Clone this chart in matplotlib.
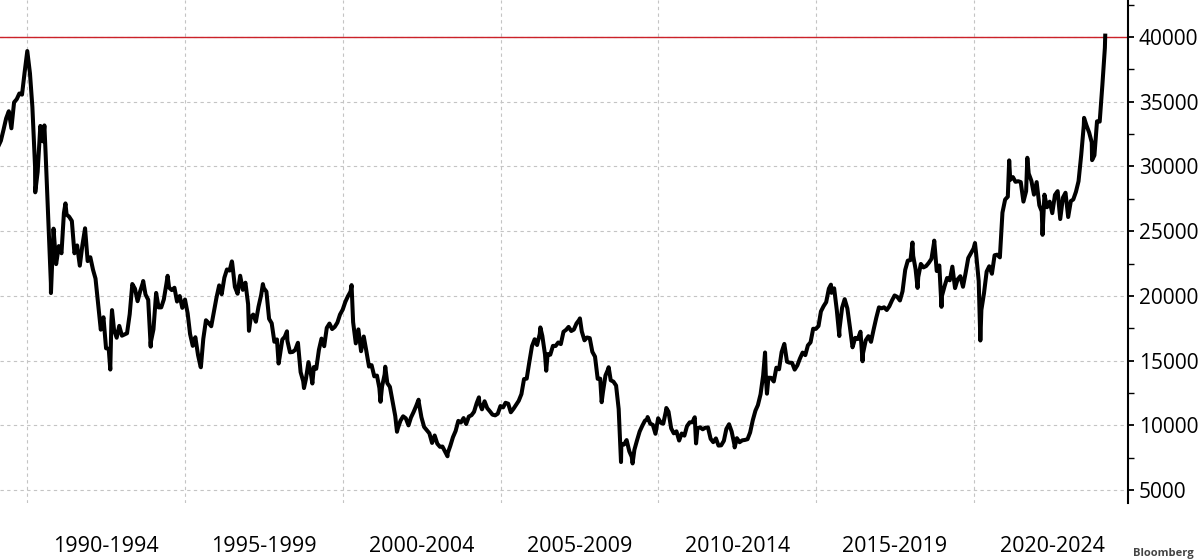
import matplotlib
matplotlib.use("Agg")
import matplotlib.pyplot as plt
import matplotlib.dates as mdates
from matplotlib.ticker import FixedLocator, NullFormatter
import pandas as pd

# ---- data: Nikkei 225 month-end closes (Jan 1989 .. Feb 2024) ----
closes_1989_2000 = [
    31581, 31985, 32839, 33713, 34266, 32948, 34954, 35200, 35636, 35549, 37269, 38916,  # 1989
    37189, 34592, 29980, 29584, 33131, 31940, 31036, 25978, 20984, 25194, 22455, 23849,  # 1990
    23293, 26409, 26292, 26111, 25790, 23291, 23900, 22335, 23916, 25222, 22687, 22984,  # 1991
    22023, 21339, 19346, 17391, 18348, 15951, 15910, 18061, 17399, 16767, 17684, 16925,  # 1992
    17024, 17113, 18591, 20919, 20552, 19590, 20380, 21027, 20106, 19703, 16408, 17417,  # 1993
    20229, 19112, 19112, 19725, 20974, 20644, 20449, 20629, 19564, 19990, 19076, 19723,  # 1994
    18650, 17053, 16140, 16807, 15437, 14518, 16678, 18117, 17913, 17655, 18744, 19868,  # 1995
    20813, 20125, 21407, 22041, 21956, 22531, 20693, 20167, 21556, 20467, 21020, 19361,  # 1996
    18330, 18557, 18003, 19151, 20069, 20605, 20331, 18229, 17888, 16459, 16636, 15259,  # 1997
    16628, 16832, 16527, 15641, 15671, 15831, 16379, 14108, 13406, 13564, 14884, 13842,  # 1998
    14499, 14368, 15837, 16702, 16112, 17530, 17862, 17437, 17605, 17942, 18558, 18934,  # 1999
    19540, 19960, 20337, 17974, 16332, 17411, 15727, 16861, 15747, 14539, 14649, 13786,  # 2000
]
closes_2001_2012 = [
    13844, 12883, 12999, 13934, 13262, 12969, 11861, 10713, 9775, 10366, 10697, 10543,   # 2001
    9997, 10588, 11025, 11493, 11764, 10622, 9877, 9619, 9383, 8640, 9216, 8579,          # 2002
    8340, 8363, 7973, 7831, 8425, 9083, 9563, 10344, 10219, 10560, 10101, 10677,          # 2003
    10784, 11042, 11715, 11762, 11236, 11859, 11326, 11082, 10824, 10771, 10899, 11489,   # 2004
    11388, 11741, 11669, 11009, 11277, 11584, 11900, 12414, 13574, 13607, 14872, 16111,   # 2005
    16650, 16205, 17060, 16907, 15467, 15505, 15457, 16141, 16128, 16399, 16274, 17226,   # 2006
    17383, 17604, 17288, 17400, 17876, 18138, 17249, 16569, 16786, 16738, 15681, 15308,   # 2007
    13592, 13603, 12526, 13850, 14339, 13481, 13377, 13073, 11260, 8577, 8512, 8860,      # 2008
    7994, 7568, 8110, 8828, 9523, 9958, 10357, 10493, 10133, 10035, 9346, 10546,          # 2009
    10198, 10126, 11090, 11057, 9769, 9383, 9537, 8824, 9369, 9202, 9937, 10229,          # 2010
    10238, 10624, 9755, 9850, 9694, 9816, 9833, 8955, 8700, 8988, 8434, 8455,             # 2011
    8803, 9723, 10084, 9521, 8543, 9007, 8695, 8840, 8870, 8928, 9446, 10395,             # 2012
]
closes_2013_2024 = [
    11139, 11559, 12398, 13861, 13775, 13677, 13668, 13389, 14456, 14328, 15662, 16291,   # 2013
    14915, 14841, 14828, 14304, 14632, 15162, 15621, 15425, 16174, 16414, 17460, 17451,   # 2014
    17674, 18798, 19207, 19520, 20563, 20236, 20585, 18890, 17388, 19083, 19747, 19034,   # 2015
    17518, 16027, 16759, 16666, 17235, 15576, 16569, 16887, 16450, 17425, 18308, 19114,   # 2016
    19041, 19119, 18909, 19197, 19651, 20033, 19925, 19646, 20356, 22012, 22725, 22765,   # 2017
    23098, 22068, 21454, 22468, 22202, 22305, 22554, 22865, 24120, 21920, 22351, 20015,   # 2018
    20773, 21385, 21206, 22259, 20601, 21276, 21521, 20704, 21756, 22927, 23294, 23657,   # 2019
    23205, 21143, 18917, 20194, 21878, 22288, 21710, 23140, 23185, 22977, 26434, 27444,   # 2020
    27663, 28966, 29179, 28813, 28860, 28792, 27284, 28090, 29453, 28893, 27822, 28792,   # 2021
    27002, 26527, 27821, 26848, 27280, 26393, 27802, 28092, 25937, 27587, 27969, 26095,   # 2022
    27327, 27446, 28041, 28856, 30888, 33189, 33172, 32619, 31858, 30859, 33487, 33464,   # 2023
    36287, 39166,                                                                         # 2024
]
month_ends = pd.date_range("1989-01-31", "2024-02-29", freq="ME")
monthly_closes = closes_1989_2000 + closes_2001_2012 + closes_2013_2024

# intra-month highs / lows visible in the chart
extreme_dates = [
    "1990-04-02", "1990-07-17", "1990-10-01", "1991-03-18", "1992-08-18", "1992-09-07",
    "1993-09-03", "1993-11-29", "1994-06-13", "1995-07-03", "1996-06-26", "1997-01-10",
    "1997-06-20", "1997-12-19", "1998-03-26", "1998-10-09", "1999-01-14", "2000-04-12",
    "2001-03-13", "2001-05-07", "2001-09-20", "2002-05-28", "2003-04-28", "2004-04-26",
    "2006-04-07", "2006-06-14", "2007-07-09", "2008-03-17", "2008-06-06", "2008-10-27",
    "2009-03-10", "2009-08-31", "2010-04-05", "2011-03-15", "2012-06-04", "2013-05-22",
    "2013-06-13", "2015-06-24", "2015-09-29", "2016-06-24", "2018-01-23", "2018-03-23",
    "2018-10-02", "2018-12-25", "2020-01-17", "2020-03-19", "2021-02-16", "2021-09-14",
    "2022-03-09", "2023-07-03", "2023-10-04", "2024-03-04",
]
extreme_values = [
    28002, 33170, 20221, 27146, 14309, 18900,
    21148, 16078, 21552, 14485, 22666, 17303,
    20910, 14775, 17264, 12880, 13232, 20833,
    11819, 14529, 9504, 11979, 7608, 12163,
    17563, 14218, 18262, 11787, 14489, 7163,
    7055, 10639, 11339, 8605, 8295, 15627,
    12445, 20868, 16901, 14952, 24124, 20617,
    24270, 19155, 24083, 16553, 30468, 30670,
    24717, 33753, 30487, 40109,
]

reference_level = 40000
period_labels = ["1990-1994", "1995-1999", "2000-2004", "2005-2009",
                 "2010-2014", "2015-2019", "2020-2024"]
period_starts = ["1990-01-01", "1995-01-01", "2000-01-01", "2005-01-01",
                 "2010-01-01", "2015-01-01", "2020-01-01"]
period_centers = ["1992-07-02", "1997-07-02", "2002-07-02", "2007-07-02",
                  "2012-07-02", "2017-07-02", "2022-07-02"]
y_major = [5000, 10000, 15000, 20000, 25000, 30000, 35000, 40000]
y_minor = [7500, 12500, 17500, 22500, 27500, 32500, 37500, 42500]

# ---- build series ----
s = pd.concat([
    pd.Series(monthly_closes, index=month_ends),
    pd.Series(extreme_values, index=pd.to_datetime(extreme_dates)),
]).sort_index()

plt.rcParams["font.family"] = ["Open Sans", "DejaVu Sans"]

fig = plt.figure(figsize=(12, 5.6), dpi=100)
ax = fig.add_axes([0.0, 0.1018, 0.9398, 0.8982])

ax.plot(s.index, s.values, color="black", lw=2.9, solid_joinstyle="round", zorder=3)
ax.axhline(reference_level, color="#cc2229", lw=1.0, zorder=2)

ax.set_xlim(pd.Timestamp("1989-02-18"), pd.Timestamp("2024-11-20"))
ax.set_ylim(4000, 42860)

# x axis: gridlines at period boundaries, labels in period centres
ax.xaxis.set_major_locator(FixedLocator(mdates.date2num(pd.to_datetime(period_starts))))
ax.xaxis.set_major_formatter(NullFormatter())
ax.xaxis.set_minor_locator(FixedLocator(mdates.date2num(pd.to_datetime(period_centers))))
ax.set_xticklabels(period_labels, minor=True)
ax.tick_params(axis="x", which="both", length=0)
ax.tick_params(axis="x", which="minor", pad=24, labelsize=15.5, colors="black")

# y axis on the right
ax.yaxis.tick_right()
ax.set_yticks(y_major)
ax.set_yticklabels([str(v) for v in y_major])
ax.set_yticks(y_minor, minor=True)
ax.tick_params(axis="y", which="major", length=4, width=1.3, direction="out",
               pad=4, labelsize=15, colors="black")
ax.tick_params(axis="y", which="minor", length=4, width=1.0, direction="out")

for side in ["left", "top", "bottom"]:
    ax.spines[side].set_visible(False)
ax.spines["right"].set_linewidth(1.5)
ax.spines["right"].set_color("black")

ax.grid(True, which="major", axis="both", color="#c4c4c4", lw=0.8,
        linestyle=(0, (3, 3)))
ax.set_axisbelow(True)

fig.text(1194 / 1200, 1 - 559 / 560, "Bloomberg", fontsize=8, fontweight="bold",
         color="#444444", va="bottom", ha="right")

fig.savefig("out.png", dpi=100, facecolor="white")
